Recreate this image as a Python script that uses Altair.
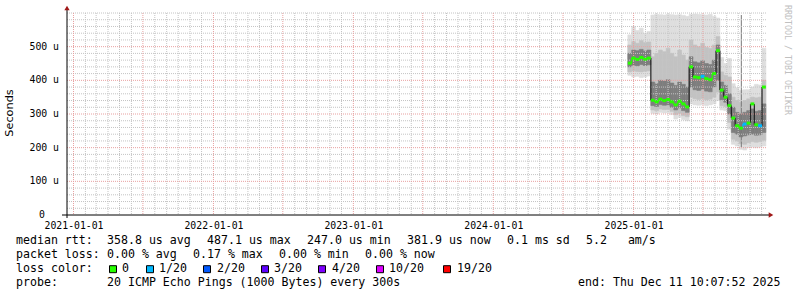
import altair as alt
import numpy as np
import pandas as pd

# ---------------- data ----------------
FIRST_STEP = "2024-12-17"
STEP_DAYS = 10

median = [451, 466, 462, 468, 463, 466,
          341, 336, 344, 340, 343, 336, 327, 338, 330, 321,
          440, 410, 408, 412, 405, 402, 420, 488,
          371, 350,
          325, 288, 265, 258, 270, 273, 330, 268, 265, 380]
lo1 = [415, 410, 412, 408, 410, 413,
       302, 300, 305, 303, 304, 298, 285, 290, 283, 280,
       330, 327, 326, 328, 325, 327, 330, 340,
       312, 310,
       255, 210, 205, 195, 193, 200, 202, 200, 202, 205]
lo2 = [425, 428, 426, 425, 427, 428,
       312, 310, 315, 313, 314, 308, 298, 302, 295, 292,
       350, 345, 343, 346, 342, 344, 350, 365,
       325, 322,
       275, 225, 220, 212, 210, 215, 218, 216, 218, 222]
lo3 = [440, 445, 443, 447, 444, 446,
       325, 322, 328, 326, 327, 320, 312, 318, 310, 305,
       380, 372, 370, 374, 368, 366, 380, 400,
       342, 335,
       300, 245, 240, 232, 235, 238, 240, 237, 238, 245]
hi3 = [480, 490, 488, 492, 487, 490,
       395, 390, 400, 398, 402, 392, 385, 395, 388, 380,
       470, 455, 452, 458, 450, 447, 460, 505,
       395, 385,
       360, 320, 305, 300, 305, 310, 315, 308, 310, 330]
hi2 = [505, 515, 510, 518, 512, 514,
       470, 480, 490, 485, 495, 480, 470, 490, 475, 460,
       520, 505, 500, 510, 498, 495, 505, 530,
       425, 415,
       410, 350, 340, 335, 340, 345, 350, 348, 350, 400]
hi1 = [535, 560, 548, 555, 540, 545,
       594, 596, 595, 594, 596, 595, 594, 595, 593, 590,
       596, 597, 596, 595, 594, 596, 590, 585,
       468, 450,
       465, 390, 378, 370, 372, 372, 380, 388, 386, 495]
loss = [0, 0, 0, 0, 0, 0,
        0, 0, 0, 0, 0, 0, 0, 0, 0, 0,
        0, 0, 0, 1, 0, 0, 0, 0,
        0, 0,
        0, 0, 0, 0, 1, 0, 0, 0, 1, 0]

spike_dates = ["2025-10-09"]
spike_lo = [202]
spike_hi = [594]

loss_levels = [0, 1, 2, 3, 4, 10, 19]
loss_labels = ["0", "1/20", "2/20", "3/20", "4/20", "10/20", "19/20"]
loss_colors = ["#26ff00", "#00b8ff", "#0059ff", "#5e00ff", "#7e00ff", "#dd00ff", "#ff0000"]

year_ticks = [2021, 2022, 2023, 2024, 2025]
y_ticks = [100, 200, 300, 400, 500]
y_tick_labels = ["100 u", "200 u", "300 u", "400 u", "500 u"]
zero_label = "0"

stats_rtt = ["median rtt:", "358.8 us avg", "487.1 us max", "247.0 us min",
             "381.9 us now", "0.1 ms sd", "5.2   am/s"]
stats_loss = ["packet loss:", "0.00 % avg", "0.17 % max", "0.00 % min", "0.00 % now"]
loss_title = "loss color:"
probe_line = ["probe:", "20 ICMP Echo Pings (1000 Bytes) every 300s",
              "end: Thu Dec 11 10:07:52 2025"]
y_title = "Seconds"
watermark = "RRDTOOL / TOBI OETIKER"

# ---------------- layout ----------------
W, H = 700, 202
PAD_L, PAD_T = 67, 13
rtt_x = [16, 107, 207, 307, 407, 507, 586]
loss_x = [16, 107, 193, 279, 365]
box_x = [109, 146, 203, 261, 318, 376, 443]
boxlab_x = [122, 159, 217, 274, 332, 389, 457]
probe_x = [16, 107, 578]
row_y = [241, 255, 269, 283]
MONO = "DejaVu Sans Mono"
SMOKE = ["#dedede", "#c2c2c2", "#7e7e7e"]
JUMP = 20  # connector drawn dark when the median jumps more than this

# ---------------- frames ----------------
def iso(ts):
    return pd.Series(ts).dt.strftime("%Y-%m-%dT%H:%M:%SZ").tolist()

n = len(median)
starts = pd.Timestamp(FIRST_STEP) + pd.to_timedelta(np.arange(n) * STEP_DAYS, unit="D")
ends = starts + pd.Timedelta(days=STEP_DAYS)
s_iso, e_iso = iso(starts), iso(ends)

def loss_col(v):
    c = loss_colors[0]
    for lv, col in zip(loss_levels, loss_colors):
        if v >= lv:
            c = col
    return c

smoke_rows = []
for (lo, hi), shade in zip([(lo1, hi1), (lo2, hi2), (lo3, hi3)], SMOKE):
    for i in range(n):
        smoke_rows.append({"s": s_iso[i], "e": e_iso[i], "lo": lo[i], "hi": hi[i], "shade": shade})
smoke = pd.DataFrame(smoke_rows)

med_cols = [loss_col(v) for v in loss]
med = pd.DataFrame({"s": s_iso, "e": e_iso, "m": median, "c": med_cols})
conn = pd.DataFrame({"s": s_iso[1:], "a": median[:-1], "b": median[1:],
                     "c": ["#222222" if abs(b - a) > JUMP else med_cols[i + 1]
                           for i, (a, b) in enumerate(zip(median[:-1], median[1:]))]})
spk = pd.DataFrame({"s": [d + "T00:00:00Z" for d in spike_dates], "lo": spike_lo, "hi": spike_hi})

months = pd.date_range("2021-01-01", "2025-12-01", freq="MS")
minor_x = pd.DataFrame({"d": iso([m for m in months if m.month not in (1, 7)])})
major_x = pd.DataFrame({"d": iso([m for m in months if m.month in (1, 7)])})
minor_y = pd.DataFrame({"v": [v for v in range(20, 601, 20) if v % 100 != 0 or v == 600]})
major_y = pd.DataFrame({"v": [v for v in range(100, 600, 100)]})
ylab = pd.DataFrame({"v": y_ticks, "t": y_tick_labels})
ylab0 = pd.DataFrame({"v": [0], "t": [zero_label]})
dummy = pd.DataFrame({"a": [0]})

# ---------------- encodings ----------------
xscale = alt.Scale(type="utc", domain=[alt.DateTime(year=2020, month=12, date=15, utc=True),
                                       alt.DateTime(year=2025, month=12, date=15, utc=True)])
yscale = alt.Scale(domain=[0, 600], nice=False, zero=False)
xaxis = alt.Axis(values=[alt.DateTime(year=y, month=1, date=1, utc=True) for y in year_ticks],
                 labelExpr="utcFormat(datum.value, '%Y-%m-%d')",
                 title=None, ticks=False, domain=False,
                 grid=False, labelFont=MONO, labelFontSize=9.8, labelColor="#000",
                 labelPadding=5, labelOverlap=False, labelFlush=False)

def X(f):
    return alt.X(f"{f}:T", scale=xscale, axis=xaxis)

def Y(f):
    return alt.Y(f"{f}:Q", scale=yscale, axis=None)

layers = []
# smoke
layers.append(alt.Chart(smoke).mark_rect(strokeWidth=0.6).encode(
    x=X("s"), x2="e", y=Y("lo"), y2="hi",
    fill=alt.Fill("shade:N", scale=None), stroke=alt.Stroke("shade:N", scale=None)))
layers.append(alt.Chart(spk).mark_rule(color="#777777", strokeWidth=1).encode(
    x=X("s"), y=Y("lo"), y2="hi"))
# grid
layers.append(alt.Chart(minor_x).mark_rule(color="#c4c4c4", strokeDash=[1, 1], strokeWidth=1).encode(
    x=X("d"), y=alt.value(0), y2=alt.value(H)))
layers.append(alt.Chart(minor_y).mark_rule(color="#c4c4c4", strokeDash=[1, 1], strokeWidth=1).encode(
    y=Y("v"), x=alt.value(0), x2=alt.value(W)))
layers.append(alt.Chart(major_x).mark_rule(color="#e8a0a0", strokeDash=[1, 1], strokeWidth=1).encode(
    x=X("d"), y=alt.value(0), y2=alt.value(H)))
layers.append(alt.Chart(major_y).mark_rule(color="#e8a0a0", strokeDash=[1, 1], strokeWidth=1).encode(
    y=Y("v"), x=alt.value(0), x2=alt.value(W)))
# median
layers.append(alt.Chart(conn).mark_rule(strokeWidth=1.2).encode(
    x=X("s"), y=Y("a"), y2="b", color=alt.Color("c:N", scale=None)))
layers.append(alt.Chart(med).mark_rule(strokeWidth=3).encode(
    x=X("s"), x2="e", y=Y("m"), color=alt.Color("c:N", scale=None)))
# y tick labels
layers.append(alt.Chart(ylab).mark_text(align="right", baseline="middle", font=MONO,
                                        fontSize=9.8, color="#000000").encode(
    y=Y("v"), x=alt.value(-8), text="t:N"))
layers.append(alt.Chart(ylab0).mark_text(align="right", baseline="middle", font=MONO,
                                         fontSize=9.8, color="#000000").encode(
    y=Y("v"), x=alt.value(-22), text="t:N"))
# axes lines + arrows
layers.append(alt.Chart(dummy).mark_rule(color="#000000", strokeWidth=1).encode(
    x=alt.value(-5), x2=alt.value(W + 3), y=alt.value(H)))
layers.append(alt.Chart(dummy).mark_rule(color="#000000", strokeWidth=1).encode(
    x=alt.value(0), y=alt.value(-5), y2=alt.value(H + 3)))
layers.append(alt.Chart(dummy).mark_point(shape="triangle-up", filled=True, size=28,
                                          color="#a01818", opacity=1).encode(
    x=alt.value(0), y=alt.value(-5)))
layers.append(alt.Chart(dummy).mark_point(shape="triangle-right", filled=True, size=28,
                                          color="#a01818", opacity=1).encode(
    x=alt.value(W + 4), y=alt.value(H)))

def txt(t, px, py, size=11.6, font=MONO, color="#000000", angle=0, align="left"):
    return alt.Chart(dummy).mark_text(align=align, baseline="middle", font=font, fontSize=size,
                                      color=color, angle=angle).encode(
        x=alt.value(px - PAD_L), y=alt.value(py - PAD_T),
        text=alt.value(t.replace(" ", "\u00a0")))

for t, px in zip(stats_rtt, rtt_x):
    layers.append(txt(t, px, row_y[0]))
for t, px in zip(stats_loss, loss_x):
    layers.append(txt(t, px, row_y[1]))
layers.append(txt(loss_title, 16, row_y[2]))
for t, col, bx, lx in zip(loss_labels, loss_colors, box_x, boxlab_x):
    layers.append(alt.Chart(dummy).mark_rect(fill=col, stroke="#000000", strokeWidth=1).encode(
        x=alt.value(bx + 0.5 - PAD_L), x2=alt.value(bx + 7.5 - PAD_L),
        y=alt.value(265.7 - PAD_T), y2=alt.value(272.7 - PAD_T)))
    layers.append(txt(t, lx, row_y[2]))
for t, px in zip(probe_line, probe_x):
    layers.append(txt(t, px, row_y[3]))
layers.append(txt(y_title, 10, 113, size=11.3, font="DejaVu Sans", angle=270, align="center"))
layers.append(txt(watermark, 787, 60, size=8.3, color="#c0c0c0", angle=90, align="center"))

chart = alt.layer(*layers).properties(
    width=W, height=H,
    padding={"left": PAD_L, "top": PAD_T, "right": 797 - PAD_L - W, "bottom": 297 - PAD_T - H},
    autosize=alt.AutoSizeParams(type="none"),
    background="white",
).configure_view(stroke=None)

chart.save("out.html", embed_options={"renderer": "svg", "actions": False})
